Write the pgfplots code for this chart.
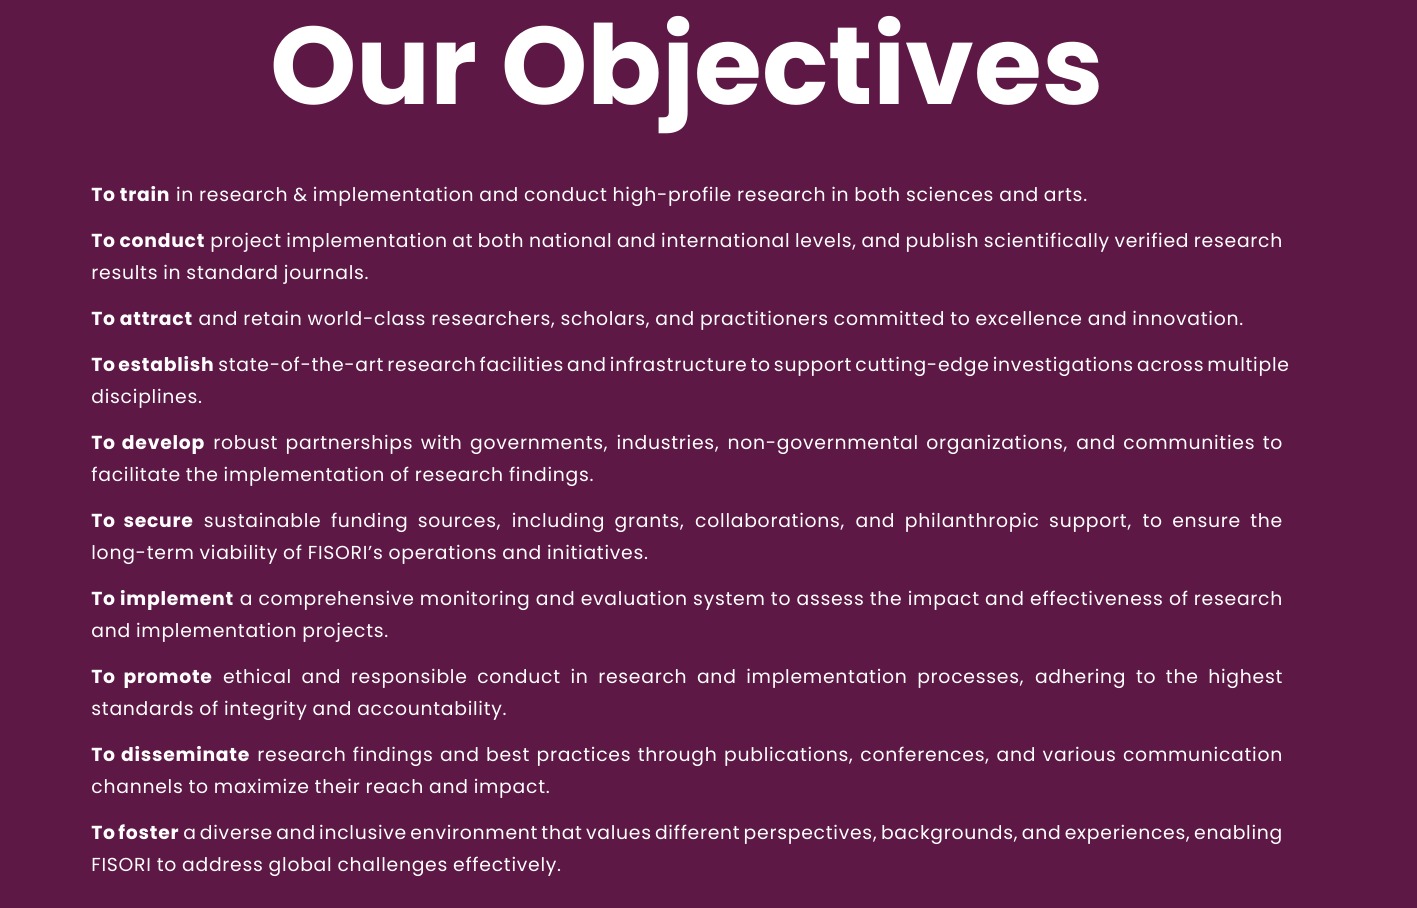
\documentclass[border=0pt]{standalone}
\usepackage{pgfplots}
\pgfplotsset{compat=1.18}
\usepackage{fontspec}
\setmainfont{Poppins}
\definecolor{bg}{HTML}{5E1845}
\begin{document}
\begin{tikzpicture}
\begin{axis}[width=708.5pt,height=454pt,scale only axis,axis lines=none,
  xmin=0,xmax=1417,ymin=0,ymax=908,y dir=reverse,clip=false,xtick=\empty,ytick=\empty]
\fill[bg] (axis cs:0,0) rectangle (axis cs:1417,908);
\addplot[draw=none] coordinates {(0,0)};
\node[white,font=\fontsize{55}{58}\selectfont\bfseries] at (axis cs:687,75) {Our Objectives};
\node[white,anchor=north west,inner sep=0pt,text width=595.5pt,align=justify,
  font=\fontsize{9.4}{16}\selectfont\addfontfeatures{LetterSpace=3.9}] at (axis cs:91,186) {%
\setlength{\parskip}{7pt}\hyphenpenalty=10000\exhyphenpenalty=10000%
\textbf{To train} in research \& implementation and conduct high-profile research in both sciences and arts.\par
\textbf{To conduct} project implementation at both national and international levels, and publish scientifically verified research results in standard journals.\par
\textbf{To attract} and retain world-class researchers, scholars, and practitioners committed to excellence and innovation.\par
\textbf{To establish} state-of-the-art research facilities and infrastructure to support cutting-edge investigations across multiple disciplines.\par
\textbf{To develop} robust partnerships with governments, industries, non-governmental organizations, and communities to facilitate the implementation of research findings.\par
\textbf{To secure} sustainable funding sources, including grants, collaborations, and philanthropic support, to ensure the long-term viability of FISORI\symbol{39}s operations and initiatives.\par
\textbf{To implement} a comprehensive monitoring and evaluation system to assess the impact and effectiveness of research and implementation projects.\par
\textbf{To promote} ethical and responsible conduct in research and implementation processes, adhering to the highest standards of integrity and accountability.\par
\textbf{To disseminate} research findings and best practices through publications, conferences, and various communication channels to maximize their reach and impact.\par
\textbf{To foster} a diverse and inclusive environment that values different perspectives, backgrounds, and experiences, enabling FISORI to address global challenges effectively.\par};
\end{axis}
\end{tikzpicture}
\end{document}
